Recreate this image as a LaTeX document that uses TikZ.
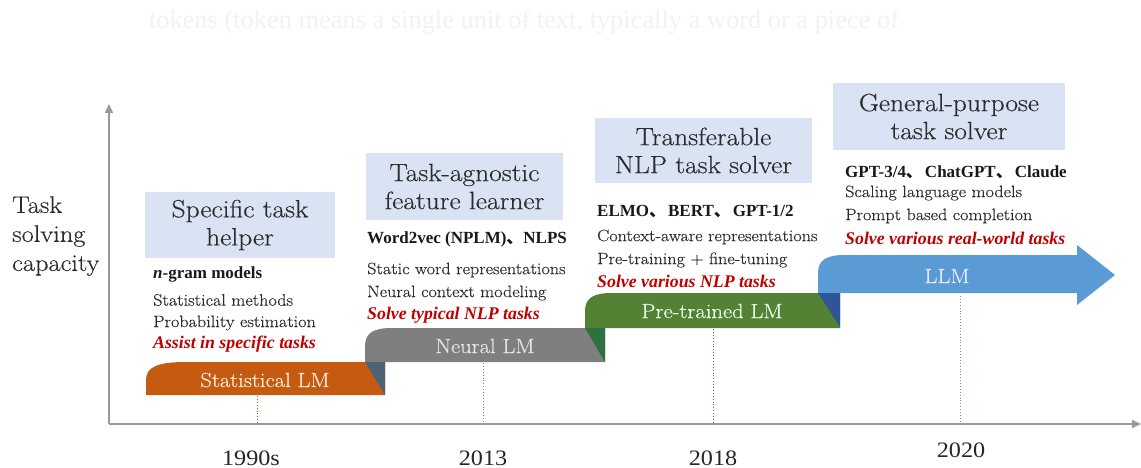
\documentclass[tikz,border=0pt]{standalone}
\usepackage{fontspec}
\newfontfamily\tnr{Liberation Serif}
\newfontfamily\tnrw[FakeStretch=1.1]{Liberation Serif}
\newfontfamily\wide[FakeStretch=1.1,FakeBold=0.35]{Latin Modern Roman}
\newfontfamily\cjk{Noto Sans CJK SC}
\usetikzlibrary{arrows.meta}
\definecolor{titlebg}{HTML}{DAE3F3}
\definecolor{orng}{HTML}{C55A11}
\definecolor{greyb}{HTML}{7F7F7F}
\definecolor{grn}{HTML}{548235}
\definecolor{blu}{HTML}{5B9BD5}
\definecolor{slate}{HTML}{4E6474}
\definecolor{dgrn}{HTML}{2F7040}
\definecolor{dblu}{HTML}{2F5597}
\definecolor{redt}{HTML}{C00000}
\definecolor{txt}{HTML}{2C2C2C}
\definecolor{axisc}{HTML}{9A9A9A}
\newcommand{\dun}{{\cjk 、}}
\newcommand{\dunw}{{\cjk 、}\hspace{2pt}}
\begin{document}
\begin{tikzpicture}[x=1pt,y=-1pt,
  titlebox/.style={fill=titlebg, inner sep=0, align=center, text=txt,
    font=\wide\fontsize{25}{28}\selectfont},
  body/.style={anchor=west, inner sep=0, text=txt, font=\wide\fontsize{16.5}{19}\selectfont},
  modl/.style={anchor=west, inner sep=0, text=black!90, font=\tnr\bfseries\fontsize{17}{19}\selectfont},
  redl/.style={anchor=west, inner sep=0, text=redt, font=\tnr\bfseries\itshape\fontsize{17.8}{19}\selectfont},
  barlbl/.style={inner sep=0, font=\wide\fontsize{20.5}{22}\selectfont},
  year/.style={inner sep=0, text=black!85, font=\tnrw\fontsize{22}{24}\selectfont},
  axisline/.style={draw=axisc, line width=1.6pt, -{Triangle[length=9pt,width=8pt]}},
  tick/.style={dotted, line width=0.9pt},
]
\useasboundingbox (0,0) rectangle (1141,468);

% faint text at top
\node[inner sep=0, text=black!5, font=\tnr\fontsize{26.4}{28}\selectfont] (faint) at (524,22)
  {tokens (token means a single unit of text, typically a word or a piece of};

% axes
\coordinate (o) at (109,424);
\coordinate (ytop) at (109,104);
\coordinate (xend) at (1141,424);
\draw[axisline] (o) -- (ytop);
\draw[axisline] (o) -- (xend);

% y label
\node[anchor=west, inner sep=0, align=left, text=txt, font=\wide\fontsize{24}{29}\selectfont] (ylabel) at (12,236)
  {Task\\solving\\capacity};

% bars
\fill[orng] (146,395) -- (146,380) .. controls (146,366) and (160,362) .. (186,362) -- (385,362) -- (385,395) -- cycle;
\fill[greyb] (365,362) -- (365,346) .. controls (365,332) and (375,328) .. (392,328) -- (605,328) -- (605,362) -- cycle;
\fill[slate] (365,362) -- (385,362) -- (385,395) -- cycle;
\fill[grn] (585,328) -- (585,311) .. controls (585,297) and (595,293) .. (612,293) -- (840,293) -- (840,328) -- cycle;
\fill[dgrn] (585,328) -- (605,328) -- (605,362) -- cycle;
\fill[blu] (818,293) -- (818,273) .. controls (818,259) and (828,255) .. (845,255) -- (1077,255) -- (1077,245) -- (1115,275) -- (1077,305) -- (1077,293) -- cycle;
\fill[dblu] (818,293) -- (840,293) -- (840,327) -- cycle;

\coordinate (b1) at (257,396);
\coordinate (b2) at (483,363);
\coordinate (b3) at (713,329);
\coordinate (b4) at (960,296);
\coordinate (a1) at (257,423);
\coordinate (a2) at (483,423);
\coordinate (a3) at (713,423);
\coordinate (a4) at (960,423);
\draw[tick, draw=orng] (b1) -- (a1);
\draw[tick, draw=greyb] (b2) -- (a2);
\draw[tick, draw=grn] (b3) -- (a3);
\draw[tick, draw=blu] (b4) -- (a4);

\node[barlbl, text=orange!15] (l1) at (265,380) {Statistical LM};
\node[barlbl, text=black!10] (l2) at (485,346) {Neural LM};
\node[barlbl, text=green!8] (l3) at (712,311) {Pre-trained LM};
\node[barlbl, text=blue!8] (l4) at (947,276) {LLM};

% title boxes
\node[titlebox, minimum width=190, minimum height=66] (t1) at (240,225) {Specific task\\helper};
\node[titlebox, minimum width=197, minimum height=67] (t2) at (464.5,186.5) {Task-agnostic\\feature learner};
\node[titlebox, minimum width=217, minimum height=65] (t3) at (703.5,150.5) {Transferable\\NLP task solver};
\node[titlebox, minimum width=232, minimum height=67] (t4) at (949,116.5) {General-purpose\\task solver};

% block 1
\node[modl] (m1) at (153,274) {\textit{n}-gram models};
\node[body] (d1a) at (153,300) {Statistical methods};
\node[body] (d1b) at (153,323) {Probability estimation};
\node[redl] (r1) at (153,344) {Assist in specific tasks};

% block 2
\node[modl] (m2) at (367,239) {Word2vec (NPLM)\dun NLPS};
\node[body] (d2a) at (367,270) {Static word representations};
\node[body] (d2b) at (367,293) {Neural context modeling};
\node[redl] (r2) at (367,315) {Solve typical NLP tasks};

% block 3
\node[modl] (m3) at (597,212) {ELMO\dunw BERT\dunw GPT-1/2};
\node[body] (d3a) at (597,237) {Context-aware representations};
\node[body] (d3b) at (597,260) {Pre-training + fine-tuning};
\node[redl] (r3) at (597,281) {Solve various NLP tasks};

% block 4
\node[modl] (m4) at (845,172) {GPT-3/4\dunw ChatGPT\dunw Claude};
\node[body] (d4a) at (845,193) {Scaling language models};
\node[body] (d4b) at (845,216) {Prompt based completion};
\node[redl] (r4) at (845,238) {Solve various real-world tasks};

% years
\node[year] (y1) at (251,458) {1990s};
\node[year] (y2) at (483,458) {2013};
\node[year] (y3) at (713,458) {2018};
\node[year] (y4) at (961,450) {2020};
\end{tikzpicture}
\end{document}
